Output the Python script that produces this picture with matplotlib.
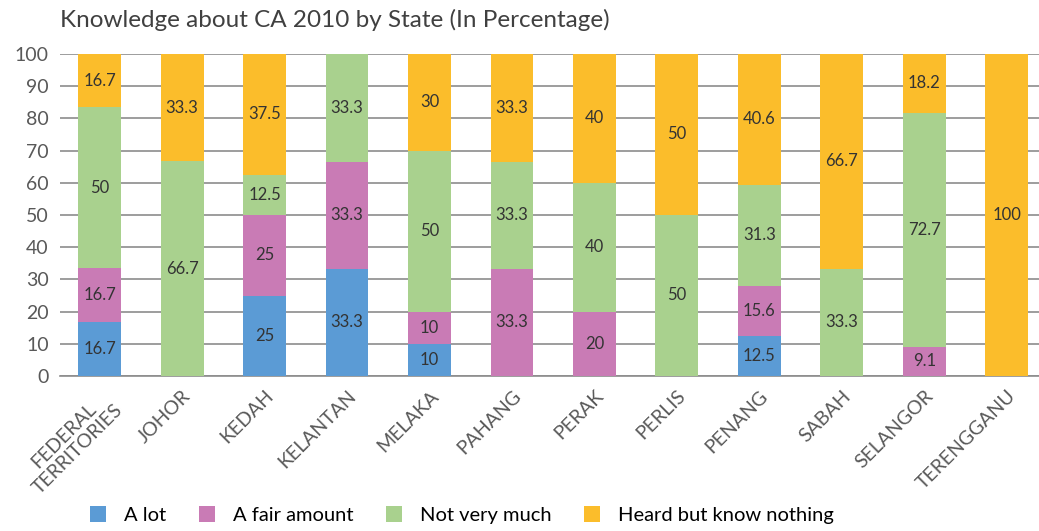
import numpy as np
import matplotlib.pyplot as plt

plt.rcParams['font.family'] = ['Lato', 'DejaVu Sans']

states = ["FEDERAL\nTERRITORIES", "JOHOR", "KEDAH", "KELANTAN", "MELAKA", "PAHANG",
          "PERAK", "PERLIS", "PENANG", "SABAH", "SELANGOR", "TERENGGANU"]
a_lot = [16.7, 0, 25, 33.3, 10, 0, 0, 0, 12.5, 0, 0, 0]
fair_amount = [16.7, 0, 25, 33.3, 10, 33.3, 20, 0, 15.6, 0, 9.1, 0]
not_very_much = [50, 66.7, 12.5, 33.3, 50, 33.3, 40, 50, 31.3, 33.3, 72.7, 0]
heard_nothing = [16.7, 33.3, 37.5, 0, 30, 33.3, 40, 50, 40.6, 66.7, 18.2, 100]

series = [("A lot", a_lot, "#5b9bd5"),
          ("A fair amount", fair_amount, "#c97bb5"),
          ("Not very much", not_very_much, "#a9d18e"),
          ("Heard but know nothing", heard_nothing, "#fbbd2b")]

fig = plt.figure(figsize=(10.39, 5.31), dpi=100)
ax = fig.add_axes([60/1039, 1-376/531, 979/1039, 322/531])

x = np.arange(len(states))
bottom = np.zeros(len(states))
for name, vals, col in series:
    vals = np.array(vals)
    ax.bar(x, vals, 0.52, bottom=bottom, color=col, label=name, zorder=3)
    for xi, b, v in zip(x, bottom, vals):
        if v > 0:
            ax.text(xi, b + v / 2, f"{v:g}", ha="center", va="center",
                    fontsize=12, color="#333333", zorder=4)
    bottom += vals

ax.set_ylim(0, 100)
ax.set_xlim(-0.48, 11.39)
ax.set_yticks(range(0, 101, 10))
ax.yaxis.grid(True, color="#8c8c8c", linewidth=1.2, zorder=0)
for s in ["top", "right", "left"]:
    ax.spines[s].set_visible(False)
ax.spines["bottom"].set_color("#8c8c8c")
ax.spines["bottom"].set_linewidth(1.2)
ax.tick_params(axis="both", length=0, labelsize=14, colors="#595959", pad=8)
ax.set_xticks(x)
ax.set_xticklabels(states, rotation=45, ha="right", rotation_mode="anchor",
                   multialignment="center")

fig.text(60/1039, 1-20/531, "Knowledge about CA 2010 by State (In Percentage)",
         fontsize=17.5, color="#404040", va="center", ha="left")

fig.legend(loc="center left", bbox_to_anchor=(72/1039, 1-515/531), ncol=4,
           frameon=False, fontsize=14.5, handlelength=0.8, handleheight=0.8,
           columnspacing=1.6, handletextpad=0.9)

fig.savefig("out.png", dpi=100)
